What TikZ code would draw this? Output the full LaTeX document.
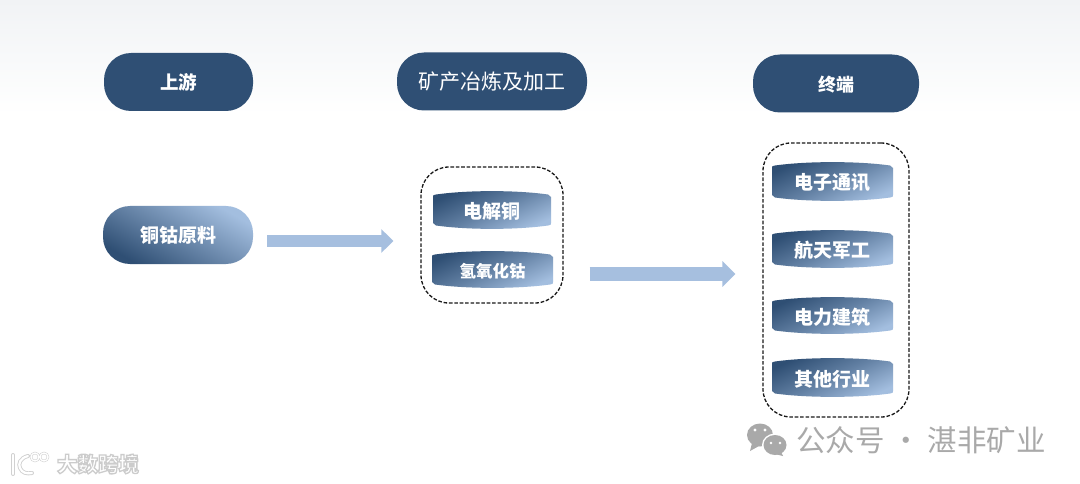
\documentclass[tikz,border=0pt]{standalone}
\usepackage{fontspec}
\setmainfont{Noto Sans CJK SC}
\usetikzlibrary{arrows.meta}
\definecolor{navy}{HTML}{2F4F74}
\definecolor{pale}{HTML}{A3BEDF}
\definecolor{flowc}{HTML}{A6BFDF}
\definecolor{wm}{HTML}{A9A9A9}
\definecolor{topc}{HTML}{F1F3F5}
\tikzset{
  hdr/.style={rectangle,rounded corners=27pt,fill=navy,text=white,inner sep=0pt,minimum height=58pt},
  groupbox/.style={rectangle,rounded corners=28pt,draw=black!90,line width=1.3pt,dash pattern=on 3.6pt off 1.8pt,inner sep=0pt},
  barreltext/.style={text=white,inner sep=0pt,font=\fontsize{19}{22}\selectfont\bfseries},
  flowline/.style={draw=flowc,line width=12pt,-{Triangle[length=12pt,width=23pt]},shorten >=0pt},
  barrelshade/.style={shading=axis,top color=navy,bottom color=pale,middle color=navy!55!pale,shading angle=25},
}
\newcommand{\barrelbox}[6]{% name, x0, y0, x1, y1, text
  \shade[barrelshade] (#2+3,#3+3.5) .. controls (#2+35,#3-1) and (#4-35,#3-1) .. (#4-3,#3+3.5)
    .. controls (#4-1,#3+4) .. (#4,#3+6) -- (#4,#5-6) .. controls (#4,#5-4) .. (#4-3,#5-3.5)
    .. controls (#4-35,#5+1) and (#2+35,#5+1) .. (#2+3,#5-3.5)
    .. controls (#2+1,#5-4) .. (#2,#5-6) -- (#2,#3+6) .. controls (#2,#3+4) .. (#2+3,#3+3.5) -- cycle;
  \node[barreltext] (#1) at ({(#2+#4)/2},{(#3+#5)/2+1.5}) {#6};
}
\begin{document}
\begin{tikzpicture}[x=1pt,y=-1pt]
\useasboundingbox (0,0) rectangle (1080,484);
\fill[white] (0,0) rectangle (1080,484);
\shade[top color=topc,bottom color=white] (0,0) rectangle (1080,115);
% headers
\node[hdr,minimum width=149pt,font=\fontsize{18.5}{22}\selectfont\bfseries] (up) at (178.5,82) {上游};
\node[hdr,minimum width=190pt,font=\fontsize{21}{24}\selectfont] (mid) at (492,81.5) {矿产冶炼及加工};
\node[hdr,minimum width=166pt,font=\fontsize{18}{22}\selectfont\bfseries,text depth=-5pt] (end) at (836,83.5) {终端};
% raw material
\node[rectangle,rounded corners=27pt,minimum width=150pt,minimum height=58pt,inner sep=0pt,
  shading=axis,top color=pale,bottom color=navy,middle color=navy!50!pale,shading angle=-30,
  text=white,font=\fontsize{19}{22}\selectfont\bfseries] (src) at (178,235) {铜钴原料};
% groups
\node[groupbox,minimum width=142pt,minimum height=136pt] (g1) at (492,235) {};
\node[groupbox,minimum width=146pt,minimum height=274pt] (g2) at (836,280) {};
% barrels
\barrelbox{b1}{433}{191}{551}{229}{电解铜}
\barrelbox{b2}{432}{251}{553}{288}{\fontsize{16.5}{20}\selectfont 氢氧化钴}
\barrelbox{c1}{772}{162}{893}{201}{电子通讯}
\barrelbox{c2}{772}{230}{893}{268}{航天军工}
\barrelbox{c3}{772}{297}{893}{334}{电力建筑}
\barrelbox{c4}{772}{358}{893}{397}{其他行业}
% arrows
\draw[flowline] ([shift={(14,6)}]src.east) -- ([shift={(-27,6)}]g1.west);
\draw[flowline,line width=14pt,-{Triangle[length=13pt,width=25pt]}] ([shift={(26,39)}]g1.east) -- ([shift={(-27,-6)}]g2.west);
% wechat watermark
\fill[wm] (760,435) ellipse (13 and 11.5);
\fill[wm] (752,443) -- (750,451) -- (759,446) -- cycle;
\fill[white] (775,445) ellipse (13 and 11.5);
\fill[wm] (775,445) ellipse (11.5 and 10);
\fill[wm] (781,452) -- (783,456) -- (775,454) -- cycle;
\fill[white] (755,430) circle (1.6) (765,430) circle (1.6) (771,443) circle (1.4) (780,443) circle (1.4);
\node[text=wm,inner sep=0pt,font=\fontsize{29.5}{32}\selectfont] (wmt) at (921,440) {公众号 · 湛非矿业};
% site watermark
\begin{scope}[line cap=round]
\foreach \lw/\col in {4/black!18,2.2/white}{
  \draw[line width=\lw pt,color=\col] (13,455) -- (13,474);
  \draw[line width=\lw pt,color=\col] (28,456) .. controls (20,458) and (18,464) .. (20,468) .. controls (22,473) and (27,474) .. (32,473);
  \draw[line width=\lw*0.6 pt,color=\col] (35,457) circle (4) (44,457) circle (4);
}
\end{scope}
\node[inner sep=0pt,font=\fontsize{20.5}{24}\selectfont\bfseries] (wms) at (98,464) {\special{pdf:code q 2 Tr 1.3 w 0.8 G 1 g}大数跨境\special{pdf:code Q}};
\end{tikzpicture}
\end{document}
